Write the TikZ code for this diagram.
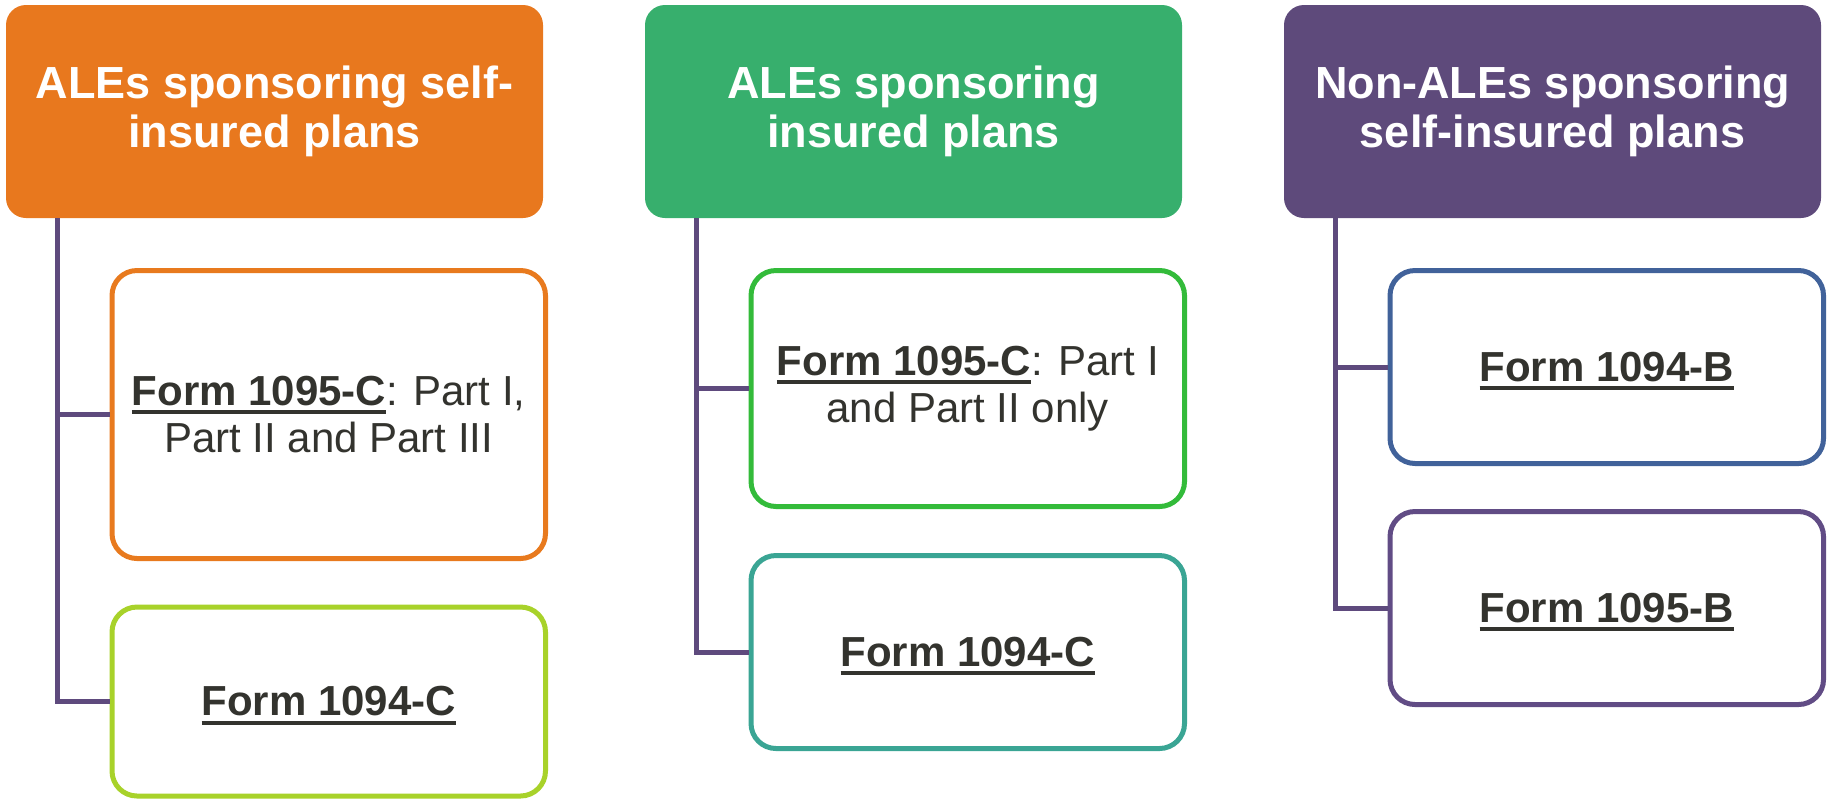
\documentclass[tikz,border=0pt]{standalone}
\usepackage{fontspec}
\setmainfont{Liberation Sans}
\definecolor{hOrange}{RGB}{232,120,30}
\definecolor{hGreen}{RGB}{55,175,109}
\definecolor{hPurple}{RGB}{94,74,123}
\definecolor{bOrange}{RGB}{232,122,30}
\definecolor{bLime}{RGB}{168,210,42}
\definecolor{bGreen}{RGB}{51,187,58}
\definecolor{bTeal}{RGB}{58,165,148}
\definecolor{bBlue}{RGB}{65,98,154}
\definecolor{bPurple}{RGB}{97,76,133}
\definecolor{conn}{RGB}{94,74,125}
\definecolor{txt}{RGB}{51,51,46}
\newcommand\formul[1]{\setbox0\hbox{\bfseries #1}\rlap{\smash{\rule[-4.5pt]{\wd0}{2pt}}}\box0}
\tikzset{
  header/.style={rectangle, rounded corners=10pt, draw=none, minimum width=268.5pt, minimum height=106.5pt,
    inner sep=0pt, align=center, text=white, font=\fontsize{22.5}{24.5}\selectfont\bfseries},
  child/.style={rectangle, rounded corners=12.5pt, line width=2.5pt, fill=white, minimum width=216.75pt,
    inner sep=0pt, align=center, text=txt, font=\fontsize{21}{23.5}\selectfont},
  connline/.style={draw=conn, line width=2.5pt}
}
\begin{document}
\begin{tikzpicture}[x=0.5pt,y=-0.5pt]
\useasboundingbox (0,0) rectangle (1829,799);
% headers
\node[header, fill=hOrange] (h1) at (274.5,111.5) {ALEs sponsoring self-\\insured plans};
\node[header, fill=hGreen] (h2) at (913.5,111.5) {ALEs sponsoring\\insured plans};
\node[header, fill=hPurple] (h3) at (1552.5,111.5) {Non-ALEs sponsoring\\self-insured plans};
% column 1
\node[child, draw=bOrange, minimum height=144pt] (c1a) at (328.75,414.5) {\formul{Form 1095-C}: Part I,\\Part II and Part III};
\node[child, draw=bLime, minimum height=94.5pt] (c1b) at (328.75,701.5) {\formul{Form 1094-C}};
% column 2
\node[child, draw=bGreen, minimum height=118pt] (c2a) at (967.75,388.5) {\formul{Form 1095-C}: Part I\\and Part II only};
\node[child, draw=bTeal, minimum height=96.5pt] (c2b) at (967.75,652) {\formul{Form 1094-C}};
% column 3
\node[child, draw=bBlue, minimum height=96.5pt] (c3a) at (1606.75,367) {\formul{Form 1094-B}};
\node[child, draw=bPurple, minimum height=96.5pt] (c3b) at (1606.75,608) {\formul{Form 1095-B}};
% connectors
\coordinate (v1) at (57.5,218);
\coordinate (v2) at (696.5,218);
\coordinate (v3) at (1335.5,218);
\draw[connline] (v1) |- (c1b.west);
\draw[connline] (v1 |- c1a.west) -- (c1a.west);
\draw[connline] (v2) |- (c2b.west);
\draw[connline] (v2 |- c2a.west) -- (c2a.west);
\draw[connline] (v3) |- (c3b.west);
\draw[connline] (v3 |- c3a.west) -- (c3a.west);
\end{tikzpicture}
\end{document}
